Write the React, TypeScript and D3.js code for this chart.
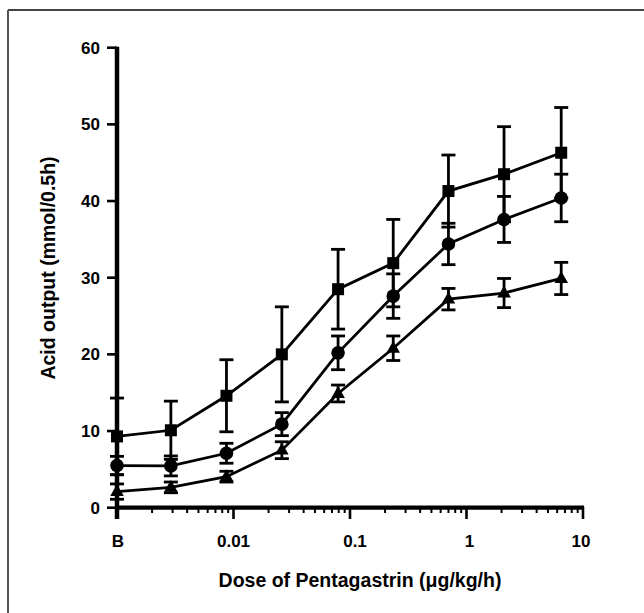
import React from "react";
import * as d3 from "d3";

// Dose levels (µg/kg/h); the first entry is the basal ("B") period
const doses = [0.001, 0.0029, 0.0087, 0.026, 0.079, 0.235, 0.7, 2.1, 6.5];

// Acid output (mmol/0.5h), mean and error for each group
const squareMean = [9.3, 10.1, 14.6, 20.0, 28.5, 31.9, 41.3, 43.5, 46.3];
const squareErr = [5.0, 3.8, 4.7, 6.2, 5.2, 5.7, 4.7, 6.2, 5.9];
const circleMean = [5.5, 5.45, 7.1, 10.9, 20.2, 27.6, 34.4, 37.6, 40.4];
const circleErr = [1.2, 1.3, 1.3, 1.5, 2.2, 2.9, 2.7, 3.0, 3.1];
const triangleMean = [2.1, 2.65, 4.05, 7.5, 14.9, 20.8, 27.2, 28.0, 29.9];
const triangleErr = [1.0, 0.7, 0.7, 1.1, 1.1, 1.6, 1.4, 1.9, 2.1];

const yTicks = [0, 10, 20, 30, 40, 50, 60];
const xMajor = [0.001, 0.01, 0.1, 1, 10];
const xLabels = ["B", "0.01", "0.1", "1", "10"];
// horizontal nudges of the dose labels relative to their ticks
const xLabelShift = [1, 0, 5, 3, -2];

const W = 644;
const H = 613;

const x = d3.scaleLog().domain([0.001, 10]).range([117, 583]);
const y = d3.scaleLinear().domain([0, 60]).range([507.7, 47.7]);

const xMinor: number[] = [];
for (let e = -3; e < 1; e++) {
  for (let m = 2; m <= 9; m++) xMinor.push(m * Math.pow(10, e));
}

const line = d3
  .line<number>()
  .x((_, i) => x(doses[i]))
  .y((v) => y(v));

type Shape = "square" | "circle" | "triangle";

function Marker({ cx, cy, shape }: { cx: number; cy: number; shape: Shape }) {
  if (shape === "square") {
    const s = 12;
    return <rect x={cx - s / 2} y={cy - s / 2} width={s} height={s} fill="#000" />;
  }
  if (shape === "circle") {
    return <circle cx={cx} cy={cy} r={6.8} fill="#000" />;
  }
  const sym = d3.symbol().type(d3.symbolTriangle).size(80)();
  return <path d={sym ?? ""} transform={`translate(${cx},${cy + 0.5})`} fill="#000" />;
}

function Series({ mean, err, shape }: { mean: number[]; err: number[]; shape: Shape }) {
  const cap = 7;
  return (
    <g>
      {mean.map((m, i) => {
        const cx = x(doses[i]);
        const top = y(m + err[i]);
        const bot = y(m - err[i]);
        return (
          <g key={`e${i}`} stroke="#000" strokeWidth={2.8}>
            <line x1={cx} x2={cx} y1={top} y2={bot} />
            <line x1={cx - cap} x2={cx + cap} y1={top} y2={top} />
            <line x1={cx - cap} x2={cx + cap} y1={bot} y2={bot} />
          </g>
        );
      })}
      <path d={line(mean) ?? ""} fill="none" stroke="#000" strokeWidth={2.8} />
      {mean.map((m, i) => (
        <Marker key={`m${i}`} cx={x(doses[i])} cy={y(m)} shape={shape} />
      ))}
    </g>
  );
}

export default function App() {
  const font = "'Liberation Sans', Arial, Helvetica, sans-serif";
  return (
    <svg
      width={W}
      height={H}
      viewBox={`0 0 ${W} ${H}`}
      style={{ position: "absolute", left: 0, top: 0, background: "#fff" }}
      fontFamily={font}
    >
      <rect x={0} y={0} width={W} height={H} fill="#fff" />
      {/* frame */}
      <line x1={8} x2={W} y1={10} y2={10} stroke="#444" strokeWidth={2} />
      <line x1={8} x2={8} y1={10} y2={H} stroke="#555" strokeWidth={2} />

      {/* y axis */}
      <line x1={117} x2={117} y1={y(60) - 1} y2={519} stroke="#000" strokeWidth={4.5} />
      {yTicks.map((t) => (
        <g key={`yt${t}`}>
          <line x1={107} x2={117} y1={y(t)} y2={y(t)} stroke="#000" strokeWidth={2.6} />
          <text
            x={100}
            y={y(t)}
            dy="0.36em"
            textAnchor="end"
            fontSize={17}
            fontWeight="bold"
          >
            {t}
          </text>
        </g>
      ))}

      {/* x axis */}
      <line x1={115} x2={584} y1={507.7} y2={507.7} stroke="#000" strokeWidth={4.2} />
      {xMinor.map((t, i) => (
        <line key={`xm${i}`} x1={x(t)} x2={x(t)} y1={507} y2={513} stroke="#000" strokeWidth={2} />
      ))}
      {xMajor.map((t, i) => (
        <g key={`xt${i}`}>
          <line x1={x(t)} x2={x(t)} y1={507} y2={519} stroke="#000" strokeWidth={2.6} />
          <text
            x={x(t) + xLabelShift[i]}
            y={547}
            textAnchor="middle"
            fontSize={17}
            fontWeight="bold"
          >
            {xLabels[i]}
          </text>
        </g>
      ))}

      {/* axis titles */}
      <text x={360} y={587} textAnchor="middle" fontSize={19.5} fontWeight="bold">
        Dose of Pentagastrin (μg/kg/h)
      </text>
      <text
        transform="translate(55,268) rotate(-90)"
        textAnchor="middle"
        fontSize={19.5}
        fontWeight="bold"
      >
        Acid output (mmol/0.5h)
      </text>

      <Series mean={triangleMean} err={triangleErr} shape="triangle" />
      <Series mean={circleMean} err={circleErr} shape="circle" />
      <Series mean={squareMean} err={squareErr} shape="square" />
    </svg>
  );
}
